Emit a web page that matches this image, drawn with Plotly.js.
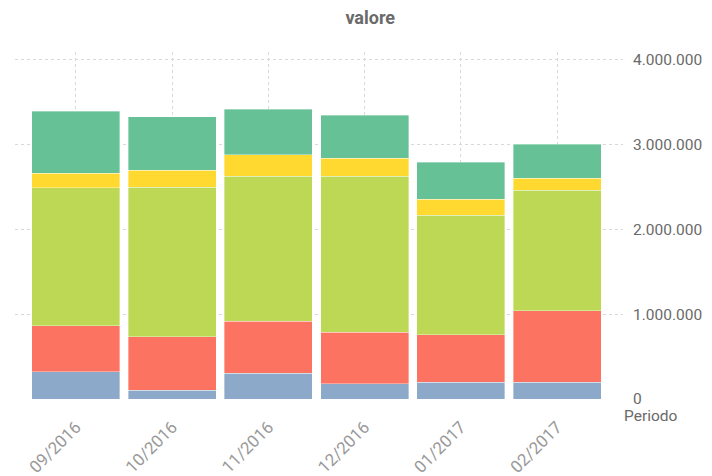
<!DOCTYPE html>
<html>
<head>
<meta charset="utf-8">
<script src="https://cdn.plot.ly/plotly-3.0.1.min.js"></script>
<style>html,body{margin:0;padding:0;background:#fff;}#chart{width:712px;height:476px;}</style>
</head>
<body>
<div id="chart"></div>
<script>
const categories = ["09/2016", "10/2016", "11/2016", "12/2016", "01/2017", "02/2017"];
const serie1 = [320000, 106000, 306000, 177000, 196000, 196000];
const serie2 = [540000, 628000, 609000, 608000, 558000, 844000];
const serie3 = [1630000, 1760000, 1708000, 1838000, 1413000, 1418000];
const serie4 = [170000, 200000, 251000, 212000, 185000, 145000];
const serie5 = [730000, 630000, 537000, 507000, 436000, 397000];
const seriesNames = ["Serie 1", "Serie 2", "Serie 3", "Serie 4", "Serie 5"];
const colors = ["#8DA9C9", "#FC7362", "#BCD855", "#FFD930", "#66C296"];
const tickVals = [0, 1000000, 2000000, 3000000, 4000000];

const all = [serie1, serie2, serie3, serie4, serie5];
const traces = all.map((vals, i) => ({
  type: "bar",
  x: categories,
  y: vals,
  name: seriesNames[i],
  marker: {color: colors[i], line: {color: "rgba(255,255,255,0.6)", width: 0.6}},
  hoverinfo: "x+y+name"
}));

const layout = {
  width: 712, height: 476,
  margin: {l: 15, r: 89, t: 52, b: 77, pad: 0},
  paper_bgcolor: "#fff", plot_bgcolor: "#fff",
  barmode: "stack",
  bargap: 0.087,
  showlegend: false,
  separators: ",.",
  font: {family: "Roboto, 'Open Sans', sans-serif", color: "#666"},
  title: {text: "<b>valore</b>", x: 0.52, xanchor: "center", y: 0.963, yanchor: "middle",
          font: {size: 18, color: "#6a6a6a", family: "Roboto, sans-serif"}},
  xaxis: {
    type: "category",
    range: [-0.633, 5.685],
    tickangle: -45,
    tickfont: {size: 17, color: "#999"},
    ticklabelstandoff: 14,
    showgrid: true, gridcolor: "#d8d8d8", griddash: "3px,3px", gridwidth: 1,
    showline: false, zeroline: false, ticks: "",
    fixedrange: true
  },
  yaxis: {
    side: "right",
    range: [0, 4087000],
    tickvals: tickVals,
    tickformat: ",d",
    tickfont: {size: 15.5, color: "#6a6a6a"},
    showgrid: true, gridcolor: "#d8d8d8", griddash: "3px,3px", gridwidth: 1,
    zeroline: false, showline: false, ticks: "",
    ticklabelstandoff: 9,
    fixedrange: true
  },
  annotations: [{
    text: "Periodo", xref: "paper", yref: "paper", x: 1.0, y: 0, xanchor: "left", yanchor: "top",
    xshift: -1, yshift: -6, showarrow: false, font: {size: 15.5, color: "#6a6a6a"}
  }]
};

Plotly.newPlot("chart", traces, layout, {displayModeBar: false, staticPlot: true});
</script>
</body>
</html>
